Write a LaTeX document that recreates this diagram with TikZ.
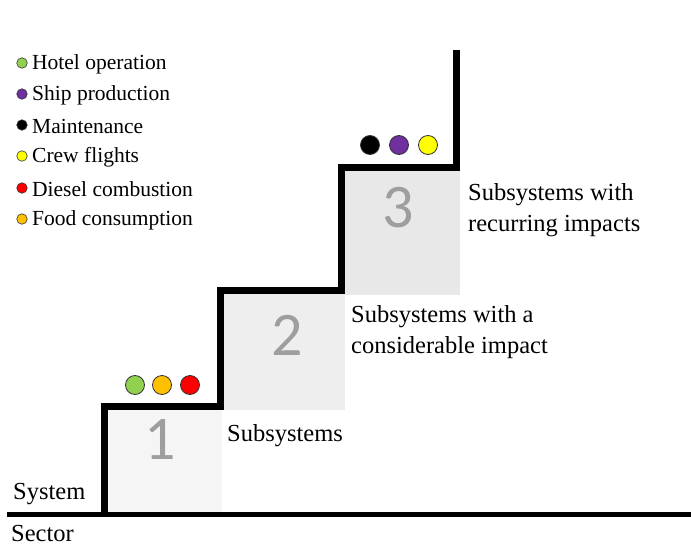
\documentclass[tikz,border=0pt]{standalone}
\usepackage{fontspec}
\setmainfont{Liberation Serif}
\newfontfamily\stepnumfont{Carlito}
\begin{document}
\begin{tikzpicture}[x=1pt,y=-1pt,
  stair/.style={line width=7pt,line join=miter,line cap=butt},
  stepnum/.style={text=black!38,font=\stepnumfont\fontsize{62}{62}\selectfont,inner sep=0pt},
  legtext/.style={anchor=west,inner sep=0pt,font=\fontsize{21.5}{26}\selectfont},
  legdot/.style={circle,draw=black!80,line width=0.6pt,minimum size=10.5pt,inner sep=0pt},
  stepdot/.style={circle,draw=black!80,line width=0.8pt,minimum size=19pt,inner sep=0pt},
  lbl/.style={anchor=west,inner sep=0pt,align=left,font=\fontsize{24.5}{31}\selectfont},
]
\useasboundingbox (0,0) rectangle (691,546);
\definecolor{cgreen}{HTML}{92D050}
\definecolor{cpurple}{HTML}{7030A0}
\definecolor{cyellow}{HTML}{FFFF00}
\definecolor{cred}{HTML}{FF0000}
\definecolor{corange}{HTML}{FFC000}

% shaded step blocks
\fill[black!4] (107,410) rectangle (222,512);
\fill[black!6.5] (223,293) rectangle (345,410);
\fill[black!9] (345,170) rectangle (460,295);

% step numbers
\node[stepnum] (n1) at (160,440) {1};
\node[stepnum] (n2) at (287,335) {2};
\node[stepnum] (n3) at (398,208) {3};

% ground line and staircase
\coordinate (g0) at (7,514);
\coordinate (g1) at (691,514);
\draw[line width=5pt] (g0) -- (g1);
\coordinate (s0) at (104,514);
\coordinate (s1) at (104,406);
\coordinate (s2) at (220,406);
\coordinate (s3) at (220,290);
\coordinate (s4) at (341,290);
\coordinate (s5) at (341,167);
\coordinate (s6) at (456,167);
\coordinate (s7) at (456,50);
\draw[stair] (s0) -- (s1) -- (s2) -- (s3) -- (s4) -- (s5) -- (s6) -- (s7);

% legend
\node[legdot,fill=cgreen]  (d1) at (22,63) {};
\node[legdot,fill=cpurple] (d2) at (22,94) {};
\node[legdot,fill=black]   (d3) at (22,125) {};
\node[legdot,fill=cyellow] (d4) at (22,156) {};
\node[legdot,fill=cred]    (d5) at (22,188) {};
\node[legdot,fill=corange] (d6) at (22,219) {};
\node[legtext] (t1) at (32,64) {Hotel operation};
\node[legtext] (t2) at (32,95) {Ship production};
\node[legtext] (t3) at (32,126) {Maintenance};
\node[legtext] (t4) at (32,157) {Crew flights};
\node[legtext] (t5) at (32,189) {Diesel combustion};
\node[legtext] (t6) at (32,220) {Food consumption};

% dots on the steps
\node[stepdot,fill=cgreen]  (a1) at (135,385) {};
\node[stepdot,fill=corange] (a2) at (162,385) {};
\node[stepdot,fill=cred]    (a3) at (190,385) {};
\node[stepdot,fill=black]   (b1) at (370,145) {};
\node[stepdot,fill=cpurple] (b2) at (399,145) {};
\node[stepdot,fill=cyellow] (b3) at (428,145) {};

% step labels
\node[lbl] (l1) at (227,436) {Subsystems};
\node[lbl] (l2) at (351,332) {Subsystems with a\\considerable impact};
\node[lbl] (l3) at (468,210) {Subsystems with\\recurring impacts};
\node[lbl] (sys) at (13,494) {System};
\node[lbl] (sec) at (11,534) {Sector};
\end{tikzpicture}
\end{document}
